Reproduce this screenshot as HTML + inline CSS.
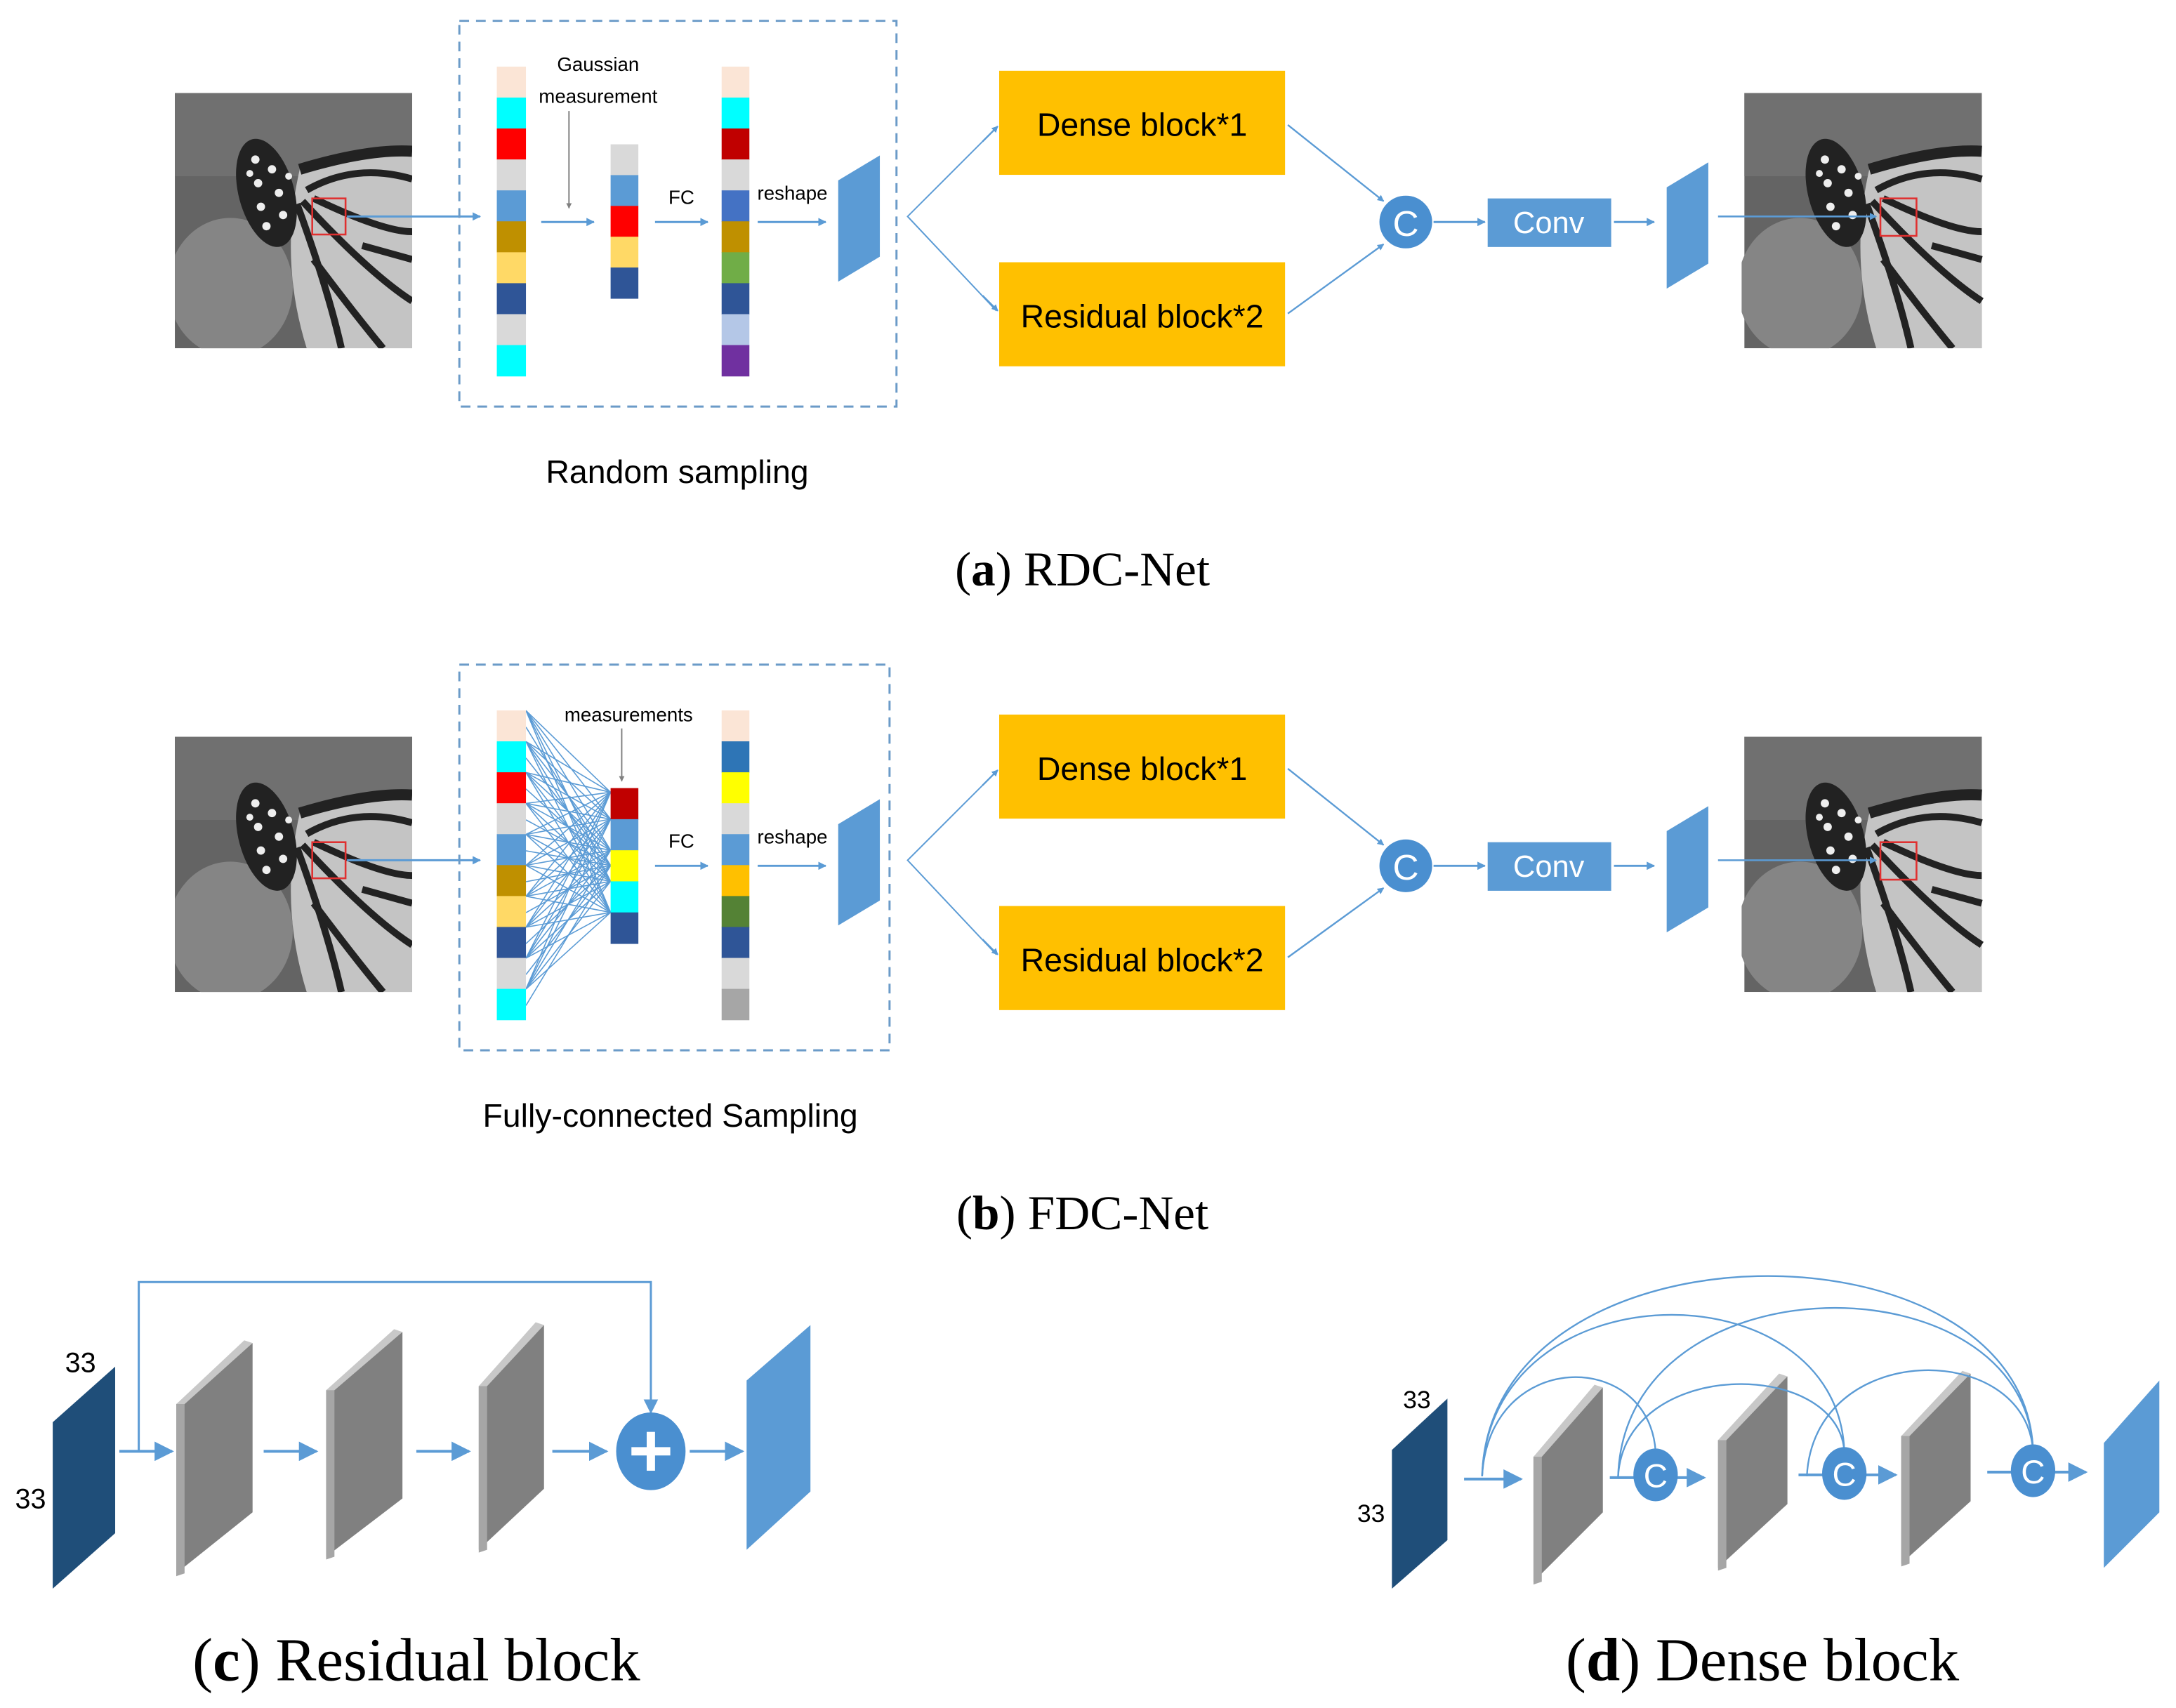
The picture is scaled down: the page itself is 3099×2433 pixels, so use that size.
<!DOCTYPE html>
<html><head><meta charset="utf-8"><style>
html,body{margin:0;padding:0;background:#fff;}
svg{display:block;}
text{font-family:"Liberation Sans","DejaVu Sans",sans-serif;}
.serif{font-family:"Liberation Serif",serif;}
</style></head><body>
<svg id="s" xmlns="http://www.w3.org/2000/svg" width="3099" height="2433" viewBox="0 0 1568 1231">
<defs>
<marker id="ar" viewBox="0 0 10 10" refX="9" refY="5" markerWidth="4" markerHeight="4" orient="auto"><path d="M0,0L10,5L0,10z" fill="#5b9bd5"/></marker>
<marker id="ag" viewBox="0 0 10 10" refX="9" refY="5" markerWidth="4" markerHeight="4" orient="auto"><path d="M0,0L10,5L0,10z" fill="#808080"/></marker>
<marker id="at" viewBox="0 0 10 10" refX="9" refY="5" markerWidth="7" markerHeight="7" orient="auto"><path d="M0,0L10,5L0,10z" fill="#5b9bd5"/></marker>
<symbol id="bf" viewBox="0 0 171 184">
<rect width="171" height="184" fill="#646464"/>
<rect x="0" y="0" width="171" height="60" fill="#707070"/>
<ellipse cx="40" cy="140" rx="45" ry="50" fill="#858585"/>
<path d="M90,55 Q140,40 171,42 L171,184 L95,184 Q75,120 90,55z" fill="#c4c4c4"/>
<path d="M90,55 Q140,40 171,42" stroke="#222" stroke-width="8" fill="none"/>
<path d="M95,70 Q130,50 171,62" stroke="#222" stroke-width="5" fill="none"/>
<path d="M88,80 Q110,140 120,184" stroke="#222" stroke-width="5" fill="none"/>
<path d="M92,78 Q140,130 171,150" stroke="#222" stroke-width="5" fill="none"/>
<path d="M100,76 Q150,100 171,100" stroke="#222" stroke-width="5" fill="none"/>
<path d="M100,120 Q130,160 150,184" stroke="#222" stroke-width="5" fill="none"/>
<path d="M135,110 L171,120" stroke="#222" stroke-width="5" fill="none"/>
<ellipse cx="66" cy="72" rx="20" ry="40" fill="#222" transform="rotate(-15 66 72)"/>
<g fill="#eee"><circle cx="58" cy="48" r="3"/><circle cx="70" cy="55" r="3"/><circle cx="60" cy="65" r="3"/><circle cx="75" cy="72" r="3"/><circle cx="62" cy="82" r="3"/><circle cx="78" cy="88" r="3"/><circle cx="66" cy="96" r="3"/><circle cx="54" cy="58" r="2.5"/><circle cx="82" cy="60" r="2.5"/></g>
</symbol>
</defs>
<g id="root"></g>

<!-- panel a -->
<use href="#bf" x="126" y="67" width="171" height="184"/>
<rect x="225" y="143" width="24" height="26" fill="none" stroke="#e03030" stroke-width="1.3"/>
<line x1="250" y1="156" x2="346" y2="156" stroke="#5b9bd5" stroke-width="1.5" marker-end="url(#ar)"/>
<rect x="331" y="15" width="315" height="278" fill="none" stroke="#6b9bc8" stroke-width="1.5" stroke-dasharray="7,5"/>
<text x="431" y="51" font-size="14" text-anchor="middle">Gaussian</text>
<text x="431" y="74" font-size="14" text-anchor="middle">measurement</text>
<line x1="410" y1="80" x2="410" y2="150" stroke="#808080" stroke-width="1" marker-end="url(#ag)"/>
<line x1="390" y1="160" x2="428" y2="160" stroke="#5b9bd5" stroke-width="1.5" marker-end="url(#ar)"/>
<text x="491" y="147" font-size="14" text-anchor="middle">FC</text>
<line x1="472" y1="160" x2="510" y2="160" stroke="#5b9bd5" stroke-width="1.5" marker-end="url(#ar)"/>
<text x="571" y="144" font-size="14" text-anchor="middle">reshape</text>
<line x1="546" y1="160" x2="595" y2="160" stroke="#5b9bd5" stroke-width="1.5" marker-end="url(#ar)"/>
<polygon points="604,130 634,112 634,185 604,203" fill="#5b9bd5"/>
<text x="488" y="348" font-size="23.5" text-anchor="middle">Random sampling</text>
<text x="780" y="422" font-size="35" text-anchor="middle" class="serif">(<tspan font-weight="bold">a</tspan>) RDC-Net</text>

<!-- panel b -->
<use href="#bf" x="126" y="531" width="171" height="184"/>
<rect x="225" y="607" width="24" height="26" fill="none" stroke="#e03030" stroke-width="1.3"/>
<line x1="250" y1="620" x2="346" y2="620" stroke="#5b9bd5" stroke-width="1.5" marker-end="url(#ar)"/>
<rect x="331" y="479" width="310" height="278" fill="none" stroke="#6b9bc8" stroke-width="1.5" stroke-dasharray="7,5"/>
<g id="fan" stroke="#5b9bd5" stroke-width="0.8"></g>
<text x="453" y="520" font-size="14" text-anchor="middle">measurements</text>
<line x1="448" y1="525" x2="448" y2="563" stroke="#808080" stroke-width="1" marker-end="url(#ag)"/>
<text x="491" y="611" font-size="14" text-anchor="middle">FC</text>
<line x1="472" y1="624" x2="510" y2="624" stroke="#5b9bd5" stroke-width="1.5" marker-end="url(#ar)"/>
<text x="571" y="608" font-size="14" text-anchor="middle">reshape</text>
<line x1="546" y1="624" x2="595" y2="624" stroke="#5b9bd5" stroke-width="1.5" marker-end="url(#ar)"/>
<polygon points="604,594 634,576 634,649 604,667" fill="#5b9bd5"/>
<text x="483" y="812" font-size="23.5" text-anchor="middle">Fully-connected Sampling</text>
<text x="780" y="886" font-size="35" text-anchor="middle" class="serif">(<tspan font-weight="bold">b</tspan>) FDC-Net</text>

<!-- panel c -->
<polygon points="38,1025 83,985 83,1105 38,1145" fill="#1f4e79"/>
<text x="58" y="989" font-size="20" text-anchor="middle">33</text>
<text x="22" y="1087" font-size="20" text-anchor="middle">33</text>
<g id="platesC"></g>
<polyline points="100,1046 100,924 469,924 469,1018" fill="none" stroke="#5b9bd5" stroke-width="1.5" marker-end="url(#at)"/>
<line x1="86" y1="1046" x2="124" y2="1046" stroke="#5b9bd5" stroke-width="2" marker-end="url(#at)"/>
<line x1="190" y1="1046" x2="228" y2="1046" stroke="#5b9bd5" stroke-width="2" marker-end="url(#at)"/>
<line x1="300" y1="1046" x2="338" y2="1046" stroke="#5b9bd5" stroke-width="2" marker-end="url(#at)"/>
<line x1="398" y1="1046" x2="437" y2="1046" stroke="#5b9bd5" stroke-width="2" marker-end="url(#at)"/>
<line x1="497" y1="1046" x2="535" y2="1046" stroke="#5b9bd5" stroke-width="2" marker-end="url(#at)"/>
<ellipse cx="469" cy="1046" rx="25" ry="28" fill="#4a8fd0"/>
<rect x="455" y="1043" width="28" height="6" fill="#fff"/><rect x="466" y="1032" width="6" height="28" fill="#fff"/>
<polygon points="538,995 584,955 584,1075 538,1117" fill="#5b9bd5"/>
<text x="300" y="1211" font-size="44" text-anchor="middle" class="serif">(<tspan font-weight="bold">c</tspan>) Residual block</text>

<!-- panel d -->
<polygon points="1003,1045 1043,1008 1043,1110 1003,1145" fill="#1f4e79"/>
<text x="1021" y="1015" font-size="18" text-anchor="middle">33</text>
<text x="988" y="1097" font-size="18" text-anchor="middle">33</text>
<g id="platesD"></g>
<g id="arcs" fill="none" stroke="#5b9bd5" stroke-width="1.2"></g>
<line x1="1055" y1="1066" x2="1096" y2="1066" stroke="#5b9bd5" stroke-width="2" marker-end="url(#at)"/>
<line x1="1160" y1="1065" x2="1228" y2="1065" stroke="#5b9bd5" stroke-width="2" marker-end="url(#at)"/>
<line x1="1296" y1="1063" x2="1366" y2="1063" stroke="#5b9bd5" stroke-width="2" marker-end="url(#at)"/>
<line x1="1432" y1="1061" x2="1503" y2="1061" stroke="#5b9bd5" stroke-width="2" marker-end="url(#at)"/>
<g id="cs"></g>
<polygon points="1516,1040 1556,995 1556,1090 1516,1130" fill="#5b9bd5"/>
<text x="1270" y="1211" font-size="44" text-anchor="middle" class="serif">(<tspan font-weight="bold">d</tspan>) Dense block</text>
</svg>
<script>
var NS="http://www.w3.org/2000/svg";
function el(p,t,a,txt){var e=document.createElementNS(NS,t);for(var k in a)e.setAttribute(k,a[k]);if(txt)e.textContent=txt;p.appendChild(e);return e;}
var s=document.getElementById("s");
function col(x,y0,y1,w,cols){var h=(y1-y0)/cols.length;cols.forEach(function(c,i){el(s,"rect",{x:x,y:y0+i*h,width:w,height:h+0.3,fill:c});});}
var c1=["#fbe5d6","#00ffff","#ff0000","#d9d9d9","#5b9bd5","#bf9000","#ffd966","#2f5597","#d9d9d9","#00ffff"];
col(358,48,271,21,c1);
col(440,104,215,20,["#d9d9d9","#5b9bd5","#ff0000","#ffd966","#2f5597"]);
col(520,48,271,20,["#fbe5d6","#00ffff","#c00000","#d9d9d9","#4472c4","#bf9000","#70ad47","#2f5597","#b4c7e7","#7030a0"]);
col(358,512,735,21,c1);
col(440,568,680,20,["#c00000","#5b9bd5","#ffff00","#00ffff","#2f5597"]);
col(520,512,735,20,["#fbe5d6","#2e75b6","#ffff00","#d9d9d9","#5b9bd5","#ffc000","#548235","#2f5597","#d9d9d9","#a6a6a6"]);
var fan=document.getElementById("fan");
for(var i=0;i<10;i++)for(var j=0;j<5;j++){el(fan,"line",{x1:379,y1:512+22.3*(i+0.5)-11,x2:440,y2:568+22.4*j+(j==0?3:0)});}
for(var i=0;i<10;i++)el(fan,"line",{x1:379,y1:512+22.3*i+12,x2:440,y2:568+22.4*2+11});
[0,464].forEach(function(d){
 el(s,"rect",{x:720,y:51+d,width:206,height:75,fill:"#ffc000"});
 el(s,"text",{x:823,y:98+d,"font-size":23.5,"text-anchor":"middle"},"Dense block*1");
 el(s,"rect",{x:720,y:189+d,width:206,height:75,fill:"#ffc000"});
 el(s,"text",{x:823,y:236+d,"font-size":23.5,"text-anchor":"middle"},"Residual block*2");
 el(s,"polyline",{points:"718,"+(92+d)+" 654,"+(156+d)+" 718,"+(224+d),stroke:"#5b9bd5","stroke-width":1,fill:"none"});
 el(s,"line",{x1:708,y1:102+d,x2:719,y2:91+d,stroke:"#5b9bd5","stroke-width":1.2,"marker-end":"url(#ar)"});
 el(s,"line",{x1:708,y1:213+d,x2:719,y2:224+d,stroke:"#5b9bd5","stroke-width":1.2,"marker-end":"url(#ar)"});
 el(s,"line",{x1:928,y1:90+d,x2:997,y2:145+d,stroke:"#5b9bd5","stroke-width":1.2,"marker-end":"url(#ar)"});
 el(s,"line",{x1:928,y1:226+d,x2:997,y2:176+d,stroke:"#5b9bd5","stroke-width":1.2,"marker-end":"url(#ar)"});
 el(s,"circle",{cx:1013,cy:160+d,r:19,fill:"#4a8fd0"});
 el(s,"text",{x:1013,y:170+d,"font-size":26,"text-anchor":"middle",fill:"#fff"},"C");
 el(s,"line",{x1:1033,y1:160+d,x2:1070,y2:160+d,stroke:"#5b9bd5","stroke-width":1.5,"marker-end":"url(#ar)"});
 el(s,"rect",{x:1072,y:143+d,width:89,height:35,fill:"#5b9bd5"});
 el(s,"text",{x:1116,y:168+d,"font-size":22,"text-anchor":"middle",fill:"#fff"},"Conv");
 el(s,"line",{x1:1163,y1:160+d,x2:1192,y2:160+d,stroke:"#5b9bd5","stroke-width":1.5,"marker-end":"url(#ar)"});
 el(s,"polygon",{points:"1201,"+(135+d)+" 1231,"+(117+d)+" 1231,"+(190+d)+" 1201,"+(208+d),fill:"#5b9bd5"});
 el(s,"use",{href:"#bf",x:1255,y:67+d,width:175,height:184});
 el(s,"rect",{x:1355,y:143+d,width:26,height:27,fill:"none",stroke:"#e03030","stroke-width":1.3});
 el(s,"line",{x1:1238,y1:156+d,x2:1352,y2:156+d,stroke:"#5b9bd5","stroke-width":1.3,"marker-end":"url(#ar)"});
});
function plate(p,x,yt,w,h,sk){
 el(p,"polygon",{points:[x,yt+sk,x+w,yt,x+w,yt+h,x,yt+h+sk].join(" "),fill:"#808080"});
 el(p,"polygon",{points:[x,yt+sk,x+6,yt+sk,x+6,yt+h+sk,x,yt+h+sk+2].join(" "),fill:"#a6a6a6"});
 el(p,"polygon",{points:[x,yt+sk,x+w-6,yt-2,x+w,yt,x+6,yt+sk].join(" "),fill:"#c8c8c8"});
}
var pc=document.getElementById("platesC");
plate(pc,127,968,55,122,44);plate(pc,235,960,55,120,42);plate(pc,345,955,47,118,44);
var pd=document.getElementById("platesD");
plate(pd,1105,1000,50,90,50);plate(pd,1238,992,50,92,46);plate(pd,1370,990,50,92,45);
var arcs=document.getElementById("arcs");
[[1068,1193,995],[1068,1329,950],[1068,1465,922],[1166,1329,1000],[1166,1465,945],[1302,1465,990]].forEach(function(a){
 var y0=1064,A=(a[2]*4-y0)/3;
 el(arcs,"path",{d:"M"+a[0]+","+y0+" C"+(a[0]+5)+","+A+" "+(a[1]-5)+","+A+" "+a[1]+",1046"});
});
var cs=document.getElementById("cs");
[[1193,1063],[1329,1062],[1465,1060]].forEach(function(c){
 el(cs,"ellipse",{cx:c[0],cy:c[1],rx:16,ry:19,fill:"#4a8fd0"});
 el(cs,"text",{x:c[0],y:c[1]+9,"font-size":24,"text-anchor":"middle",fill:"#fff"},"C");
});
</script>
</body></html>
